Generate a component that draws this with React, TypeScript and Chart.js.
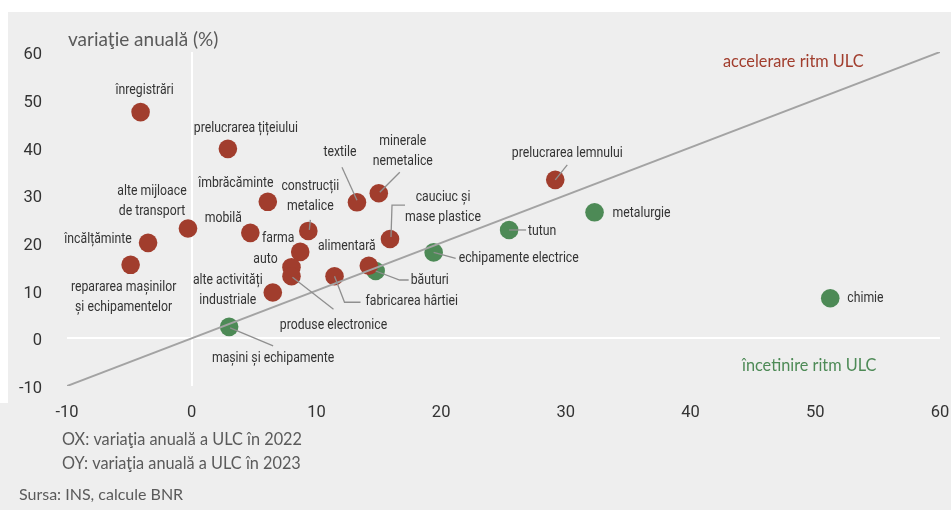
import React, { useEffect, useRef } from "react";
import { Chart, registerables } from "chart.js";

Chart.register(...registerables);

// ---- data (x = ULC change 2022, y = ULC change 2023, %) ----
const accelNames = [
  "înregistrări",
  "prelucrarea țițeiului",
  "îmbrăcăminte",
  "construcții\nmetalice",
  "mobilă",
  "farma",
  "auto",
  "produse electronice",
  "alte activități\nindustriale",
  "alte mijloace\nde transport",
  "încălțăminte",
  "repararea mașinilor\nși echipamentelor",
  "textile",
  "minerale\nnemetalice",
  "cauciuc și\nmase plastice",
  "alimentară",
  "fabricarea hârtiei",
  "prelucrarea lemnului",
];
const accelX2022 = [-4.1, 2.9, 6.1, 9.35, 4.7, 8.7, 8.0, 8.0, 6.5, -0.3, -3.5, -4.9, 13.25, 15.0, 15.9, 14.2, 11.45, 29.15];
const accelY2023 = [47.4, 39.7, 28.6, 22.5, 22.1, 18.1, 14.9, 13.0, 9.6, 23.0, 20.0, 15.4, 28.5, 30.4, 20.8, 15.2, 13.0, 33.2];

const slowNames = [
  "mașini și echipamente",
  "băuturi",
  "echipamente electrice",
  "tutun",
  "metalurgie",
  "chimie",
];
const slowX2022 = [3.0, 14.75, 19.4, 25.45, 32.3, 51.2];
const slowY2023 = [2.4, 14.1, 18.0, 22.7, 26.4, 8.4];

const axisMin = -10;
const axisMax = 60;
const axisStep = 10;
const parityLine = [-10, 60];

const titleText = "variaţie anuală (%)";
const accelText = "accelerare ritm ULC";
const slowText = "încetinire ritm ULC";
const noteLines = ["OX: variaţia anuală a ULC în 2022", "OY: variaţia anuală a ULC în 2023"];
const sourceText = "Sursa: INS, calcule BNR";

// ---- styling / layout ----
const RED = "#a13d2d";
const GREEN = "#4d8a56";
const TEXT = "#333333";
const NOTE = "#5a5a5a";
const BG = "#eeeeee";
const COND = "'Roboto', 'Liberation Sans', sans-serif";
const REG = "'Lato', 'Open Sans', sans-serif";
const LABEL_SIZE = 15.5;
const LABEL_SQUEEZE = 0.79;

type Lay = { dx: number; dy: number; align?: CanvasTextAlign; leader?: number[][] };
const LABEL_LAYOUT: Record<string, Lay> = {
  "înregistrări": { dx: 4, dy: -22 },
  "prelucrarea țițeiului": { dx: 18, dy: -21 },
  "îmbrăcăminte": { dx: -32, dy: -19 },
  "construcții\nmetalice": { dx: 2, dy: -45, leader: [[1, -1], [2, -11]] },
  "mobilă": { dx: -27, dy: -15 },
  "farma": { dx: -22, dy: -14 },
  "auto": { dx: -26, dy: -8 },
  "produse electronice": { dx: 42, dy: 49, leader: [[1, 1], [42, 33]] },
  "alte activități\nindustriale": { dx: -45, dy: -12 },
  "alte mijloace\nde transport": { dx: -36, dy: -37 },
  "încălțăminte": { dx: -50, dy: -4 },
  "repararea mașinilor\nși echipamentelor": { dx: -7, dy: 22 },
  "textile": { dx: -17, dy: -50, leader: [[0, -2], [-15, -35]] },
  "minerale\nnemetalice": { dx: 24, dy: -52, leader: [[1, -1], [21, -21]] },
  "cauciuc și\nmase plastice": { dx: 53, dy: -42, leader: [[1, -2], [2, -34], [15, -34]] },
  "alimentară": { dx: -22, dy: -20 },
  "fabricarea hârtiei": { dx: 31, dy: 25, align: "left", leader: [[0, 0], [10, 26], [26, 26]] },
  "prelucrarea lemnului": { dx: 12, dy: -27, leader: [[0, 0], [12, -15]] },
  "mașini și echipamente": { dx: 44, dy: 31, leader: [[1, 1], [44, 19]] },
  "băuturi": { dx: 35, dy: 9, align: "left", leader: [[0, 0], [24, 9], [33, 9]] },
  "echipamente electrice": { dx: 25, dy: 6, align: "left", leader: [[0, 0], [22, 6]] },
  "tutun": { dx: 19, dy: 1, align: "left", leader: [[0, 0], [17, 0]] },
  "metalurgie": { dx: 18, dy: 1, align: "left" },
  "chimie": { dx: 17, dy: 0, align: "left" },
};

const CANVAS_W = 943;
const CANVAS_H = 498;

const labelPlugin = {
  id: "pointLabels",
  afterDatasetsDraw(chart: any) {
    const ctx: CanvasRenderingContext2D = chart.ctx;
    ctx.save();
    chart.data.datasets.forEach((ds: any, i: number) => {
      if (!ds.names) return;
      const meta = chart.getDatasetMeta(i);
      meta.data.forEach((el: any, j: number) => {
        const name: string = ds.names[j];
        const lay = LABEL_LAYOUT[name];
        if (!lay) return;
        const px = el.x;
        const py = el.y;
        if (lay.leader) {
          ctx.beginPath();
          ctx.strokeStyle = "#8f8f8f";
          ctx.lineWidth = 1.3;
          lay.leader.forEach((p, k) => {
            if (k === 0) ctx.moveTo(px + p[0], py + p[1]);
            else ctx.lineTo(px + p[0], py + p[1]);
          });
          ctx.stroke();
        }
        ctx.fillStyle = TEXT;
        ctx.font = `${LABEL_SIZE}px ${COND}`;
        ctx.textAlign = lay.align || "center";
        ctx.textBaseline = "middle";
        name.split("\n").forEach((line, k) => {
          ctx.save();
          ctx.translate(px + lay.dx, py + lay.dy + k * 20);
          ctx.scale(LABEL_SQUEEZE, 1);
          ctx.fillText(line, 0, 0);
          ctx.restore();
        });
      });
    });
    ctx.restore();
  },
  afterDraw(chart: any) {
    const ctx: CanvasRenderingContext2D = chart.ctx;
    ctx.save();
    ctx.textBaseline = "middle";
    ctx.textAlign = "left";
    ctx.fillStyle = NOTE;
    ctx.font = `19px ${REG}`;
    ctx.fillText(titleText, 60, 28);
    ctx.font = `16.3px ${REG}`;
    ctx.fillStyle = RED;
    ctx.fillText(accelText, 715, 50);
    ctx.fillStyle = GREEN;
    ctx.fillText(slowText, 734, 354);
    ctx.fillStyle = NOTE;
    ctx.font = `16.3px ${REG}`;
    ctx.fillText(noteLines[0], 54, 428);
    ctx.fillText(noteLines[1], 54, 452);
    ctx.font = `16px ${REG}`;
    ctx.fillText(sourceText, 11, 483);
    ctx.restore();
  },
};

export default function App() {
  const ref = useRef<HTMLCanvasElement | null>(null);
  useEffect(() => {
    if (!ref.current) return;
    const zeroGrid = (c: any) => (c.tick && c.tick.value === 0 ? "#ffffff" : "rgba(0,0,0,0)");
    const chart = new Chart(ref.current, {
      type: "scatter",
      data: {
        datasets: [
          {
            type: "line",
            data: parityLine.map((v) => ({ x: v, y: v })),
            borderColor: "#a3a3a3",
            borderWidth: 2,
            pointRadius: 0,
            order: 0,
          } as any,
          {
            names: accelNames,
            data: accelX2022.map((x, i) => ({ x, y: accelY2023[i] })),
            backgroundColor: RED,
            borderWidth: 0,
            pointRadius: 9.3,
            order: 1,
          } as any,
          {
            names: slowNames,
            data: slowX2022.map((x, i) => ({ x, y: slowY2023[i] })),
            backgroundColor: GREEN,
            borderWidth: 0,
            pointRadius: 9.3,
            order: 1,
          } as any,
        ],
      },
      options: {
        animation: false,
        responsive: false,
        events: [],
        layout: { padding: { top: 40, right: 11, left: 0, bottom: 84 } },
        plugins: { legend: { display: false }, tooltip: { enabled: false } },
        scales: {
          x: {
            type: "linear",
            min: axisMin,
            max: axisMax,
            ticks: { stepSize: axisStep, padding: 17, color: TEXT, font: { family: COND, size: 16.5 } },
            grid: { color: zeroGrid, lineWidth: 2, drawTicks: false },
            border: { display: false },
            afterFit: (s: any) => {
              s.height = 40;
              s.paddingLeft = 0;
              s.paddingRight = 0;
            },
          },
          y: {
            type: "linear",
            min: axisMin,
            max: axisMax,
            ticks: { stepSize: axisStep, padding: 25, labelOffset: 3, color: TEXT, font: { family: COND, size: 16.5 } },
            grid: { color: zeroGrid, lineWidth: 2, drawTicks: false },
            border: { display: false },
            afterFit: (s: any) => {
              s.width = 59;
              s.paddingTop = 0;
              s.paddingBottom = 0;
            },
          },
        },
      },
      plugins: [labelPlugin],
    } as any);
    return () => chart.destroy();
  }, []);

  return (
    <>
      <div style={{ position: "absolute", left: 0, top: 403, width: 8, height: 107, background: BG }} />
      <div style={{ position: "absolute", left: 8, top: 12, width: CANVAS_W, height: CANVAS_H, background: BG }}>
        <canvas ref={ref} width={CANVAS_W} height={CANVAS_H} style={{ display: "block", width: CANVAS_W, height: CANVAS_H }} />
      </div>
    </>
  );
}
